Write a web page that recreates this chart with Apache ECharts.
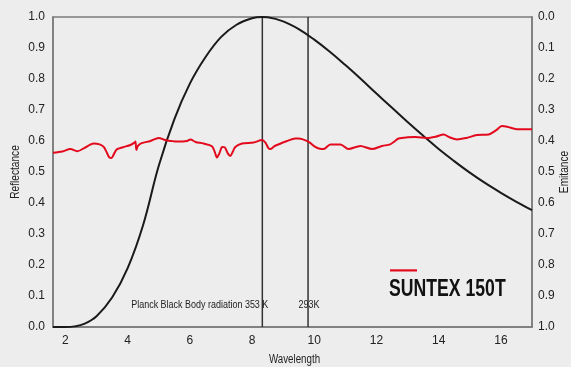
<!DOCTYPE html>
<html>
<head>
<meta charset="utf-8">
<script src="https://cdn.jsdelivr.net/npm/echarts@6/dist/echarts.min.js"></script>
<style>
html,body{margin:0;padding:0;background:#ecedec;}
#c{width:571px;height:367px;}
</style>
</head>
<body>
<div id="c"></div>
<script>
// Planck black-body curve (normalised)
const planckX = [1.6, 2.0, 2.3, 2.6, 3.0, 3.5, 4.0, 4.5, 5.0, 5.5, 6.0, 6.5, 7.0, 7.5, 8.0, 8.33, 8.5, 9.0, 9.5, 10, 10.5, 11, 11.5, 12, 12.5, 13, 13.5, 14, 14.5, 15, 15.5, 16, 16.5, 17];
const planckY = [0, 0, 0.002, 0.01, 0.035, 0.095, 0.19, 0.33, 0.52, 0.67, 0.785, 0.87, 0.935, 0.975, 0.996, 1.0, 0.999, 0.986, 0.961, 0.927, 0.888, 0.845, 0.8, 0.753, 0.707, 0.661, 0.617, 0.574, 0.535, 0.498, 0.464, 0.433, 0.404, 0.377];

// SUNTEX 150T reflectance
const redX = [1.6, 1.9, 2.16, 2.38, 2.6, 2.91, 3.1, 3.23, 3.33, 3.41, 3.48, 3.55, 3.65, 3.85, 4.09, 4.22, 4.25, 4.28, 4.33, 4.45, 4.73, 5.0, 5.21, 5.4, 5.6, 5.91, 6.02, 6.18, 6.44, 6.71, 6.8, 6.87, 6.95, 7.04, 7.12, 7.22, 7.30, 7.38, 7.46, 7.68, 8.05, 8.32, 8.43, 8.52, 8.59, 8.7, 8.80, 9.12, 9.39, 9.50, 9.82, 10.03, 10.15, 10.30, 10.52, 10.84, 11.10, 11.48, 11.86, 12.18, 12.44, 12.6, 12.71, 13.0, 13.25, 13.62, 13.9, 14.16, 14.35, 14.59, 14.9, 15.23, 15.60, 15.85, 16.03, 16.2, 16.51, 16.94, 17.0];
const redY = [0.562, 0.566, 0.574, 0.567, 0.577, 0.592, 0.589, 0.581, 0.563, 0.547, 0.545, 0.556, 0.573, 0.58, 0.587, 0.595, 0.598, 0.571, 0.584, 0.593, 0.60, 0.61, 0.603, 0.60, 0.598, 0.60, 0.605, 0.597, 0.592, 0.583, 0.565, 0.547, 0.56, 0.581, 0.58, 0.56, 0.552, 0.565, 0.581, 0.592, 0.595, 0.603, 0.595, 0.578, 0.574, 0.582, 0.587, 0.60, 0.608, 0.608, 0.597, 0.581, 0.576, 0.574, 0.589, 0.589, 0.574, 0.584, 0.574, 0.584, 0.589, 0.60, 0.608, 0.612, 0.613, 0.61, 0.614, 0.621, 0.612, 0.605, 0.61, 0.619, 0.621, 0.635, 0.648, 0.646, 0.638, 0.638, 0.638];

// Wien peak markers
const markerX = [8.33, 9.8];
const markerLabels = ['Planck Black Body radiation 353 K', '293K'];
const markerLabelY = 0.07;

const xTicks = [2, 4, 6, 8, 10, 12, 14, 16];
const seriesName = 'SUNTEX 150T';
const axisNames = { x: 'Wavelength', yLeft: 'Reflectance', yRight: 'Emitance' };

const sans = "'Liberation Sans', Arial, sans-serif";
const chart = echarts.init(document.getElementById('c'));
const zip = (xs, ys) => xs.map((x, i) => [x, ys[i]]);
const axisCol = '#7b7b7b';

const option = {
  backgroundColor: '#ecedec',
  animation: false,
  grid: { left: 53, right: 39, top: 17, bottom: 40, outerBoundsMode: 'none', containLabel: false,
          show: true, borderColor: axisCol, borderWidth: 1.5, backgroundColor: 'transparent' },
  xAxis: {
    type: 'value', min: 1.6, max: 17,
    axisLine: { show: true, lineStyle: { color: axisCol, width: 1.5 } },
    axisTick: { show: false },
    splitLine: { show: false },
    axisLabel: { customValues: xTicks, color: '#222', fontFamily: sans, fontSize: 12, margin: 8 }
  },
  yAxis: [
    {
      type: 'value', min: 0, max: 1, interval: 0.1,
      axisLine: { show: true, lineStyle: { color: axisCol, width: 1.5 } },
      axisTick: { show: false }, splitLine: { show: false },
      axisLabel: { formatter: v => v.toFixed(1), color: '#222', fontFamily: sans, fontSize: 12, margin: 8 }
    },
    {
      type: 'value', min: 0, max: 1, interval: 0.1, inverse: true, position: 'right',
      axisLine: { show: true, lineStyle: { color: axisCol, width: 1.5 } },
      axisTick: { show: false }, splitLine: { show: false },
      axisLabel: { formatter: v => v.toFixed(1), color: '#222', fontFamily: sans, fontSize: 12, margin: 6 }
    }
  ],
  series: [
    {
      name: 'Planck', type: 'line', data: zip(planckX, planckY), smooth: 0.4,
      showSymbol: false, lineStyle: { color: '#1a1a1a', width: 2 }, z: 3
    },
    ...markerX.map((mx, i) => ({
      name: 'marker' + i, type: 'line', data: [[mx, 0], [mx, 1]],
      showSymbol: false, lineStyle: { color: '#333', width: 1.5 }, z: 2
    })),
    {
      name: seriesName, type: 'line', data: zip(redX, redY), smooth: 0.3,
      showSymbol: false, lineStyle: { color: '#e30a1e', width: 2 }, z: 4
    }
  ]
};
chart.setOption(option);

// Condensed texts (no condensed font installed: use horizontal scaling)
const px = (x, y) => chart.convertToPixel({ gridIndex: 0 }, [x, y]);
const tl = px(1.6, 1), br = px(17, 0);
const cx = (tl[0] + br[0]) / 2, cy = (tl[1] + br[1]) / 2;
const m0 = px(markerX[0], markerLabelY), m1 = px(markerX[1], markerLabelY);
const condensed = (text, x, y, size, opts) => Object.assign({
  type: 'text', x: x, y: y, scaleX: 0.78, z: 10,
  style: { text: text, fontFamily: sans, fontSize: size, fill: '#222', align: 'center', verticalAlign: 'middle' }
}, opts || {});

const legendLine = px(13.17, 0.183);
chart.setOption({
  graphic: [
    condensed(markerLabels[0], m0[0] + 6, m0[1], 11.5, { style: { text: markerLabels[0], fontFamily: sans, fontSize: 11.5, fill: '#222', align: 'right', verticalAlign: 'middle' } }),
    condensed(markerLabels[1], m1[0] + 1, m1[1], 11.5),
    condensed(axisNames.x, cx + 2, 360, 12.5),
    condensed(axisNames.yLeft, 15, cy, 13, { rotation: Math.PI / 2 }),
    condensed(axisNames.yRight, 564, cy, 13, { rotation: Math.PI / 2 }),
    { type: 'rect', shape: { x: 390, y: 269.3, width: 27, height: 2.2 }, style: { fill: '#e30a1e' }, z: 10 },
    { type: 'text', x: 389, y: 289.5, scaleX: 0.72, z: 10,
      style: { text: seriesName, fontFamily: sans, fontWeight: 'bold', fontSize: 24.5, fill: '#111', align: 'left', verticalAlign: 'middle' } }
  ]
});
</script>
</body>
</html>
